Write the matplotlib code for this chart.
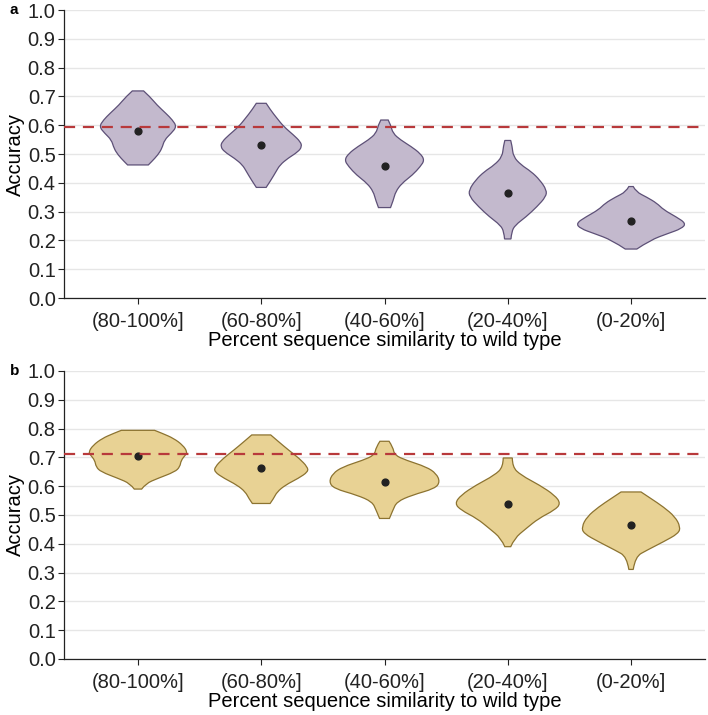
import numpy as np
import matplotlib
matplotlib.use("Agg")
import matplotlib.pyplot as plt
from matplotlib.path import Path
from matplotlib.patches import PathPatch

plt.rcParams['font.family'] = ['Liberation Sans', 'DejaVu Sans']

# categories
categories = ["(80-100%]", "(60-80%]", "(40-60%]", "(20-40%]", "(0-20%]"]

# baseline (dashed line) for each panel
baseline_a = 0.593
baseline_b = 0.712

# mean accuracy per bin (the dots)
means_a = [0.580, 0.530, 0.458, 0.363, 0.266]
means_b = [0.706, 0.664, 0.615, 0.537, 0.466]

# violin outlines: accuracy levels (bottom -> top)
# and the half width of the violin at that level (x units)
prof_a_y = [
    [0.462, 0.473, 0.497, 0.520, 0.549, 0.572, 0.595, 0.618, 0.641, 0.670, 0.699, 0.719],
    [0.384, 0.410, 0.439, 0.462, 0.485, 0.508, 0.526, 0.543, 0.566, 0.595, 0.624, 0.653, 0.676],
    [0.314, 0.340, 0.369, 0.398, 0.427, 0.456, 0.479, 0.502, 0.526, 0.549, 0.572, 0.601, 0.618],
    [0.205, 0.230, 0.253, 0.282, 0.317, 0.352, 0.375, 0.410, 0.439, 0.462, 0.491, 0.526, 0.547],
    [0.170, 0.201, 0.224, 0.241, 0.259, 0.282, 0.306, 0.329, 0.350, 0.369, 0.387],
]
prof_a_w = [
    [0.084, 0.110, 0.162, 0.195, 0.215, 0.270, 0.314, 0.280, 0.227, 0.154, 0.097, 0.046],
    [0.040, 0.080, 0.120, 0.152, 0.216, 0.300, 0.330, 0.317, 0.262, 0.183, 0.128, 0.075, 0.040],
    [0.049, 0.072, 0.090, 0.140, 0.227, 0.290, 0.325, 0.290, 0.216, 0.130, 0.068, 0.050, 0.030],
    [0.026, 0.031, 0.060, 0.149, 0.237, 0.310, 0.315, 0.260, 0.190, 0.108, 0.045, 0.036, 0.024],
    [0.047, 0.156, 0.300, 0.410, 0.446, 0.365, 0.265, 0.210, 0.128, 0.040, 0.018],
]

prof_b_y = [
    [0.590, 0.609, 0.627, 0.650, 0.667, 0.690, 0.708, 0.719, 0.742, 0.766, 0.783, 0.794],
    [0.540, 0.557, 0.580, 0.604, 0.627, 0.650, 0.667, 0.696, 0.725, 0.754, 0.778],
    [0.488, 0.517, 0.546, 0.569, 0.592, 0.615, 0.644, 0.667, 0.690, 0.708, 0.736, 0.756],
    [0.390, 0.419, 0.453, 0.488, 0.517, 0.540, 0.569, 0.604, 0.638, 0.667, 0.698],
    [0.311, 0.355, 0.378, 0.407, 0.436, 0.459, 0.494, 0.528, 0.557, 0.580],
]
prof_b_w = [
    [0.030, 0.063, 0.160, 0.300, 0.340, 0.350, 0.385, 0.400, 0.365, 0.290, 0.200, 0.135],
    [0.072, 0.100, 0.128, 0.196, 0.300, 0.380, 0.375, 0.310, 0.223, 0.142, 0.077],
    [0.040, 0.068, 0.100, 0.223, 0.410, 0.450, 0.420, 0.340, 0.176, 0.081, 0.068, 0.037],
    [0.024, 0.054, 0.149, 0.250, 0.380, 0.430, 0.380, 0.257, 0.108, 0.037, 0.037],
    [0.018, 0.034, 0.130, 0.263, 0.385, 0.400, 0.357, 0.263, 0.162, 0.081],
]


def side_curve(pts):
    # quadratic bezier pieces: interior points act as control points,
    # midpoints between them are on the curve
    verts, codes = [], []
    for k in range(1, len(pts) - 1):
        p = pts[k]
        if k < len(pts) - 2:
            end = ((pts[k][0] + pts[k + 1][0]) / 2, (pts[k][1] + pts[k + 1][1]) / 2)
        else:
            end = pts[k + 1]
        verts += [p, end]
        codes += [Path.CURVE3, Path.CURVE3]
    return verts, codes


def violin_path(center, ys, ws):
    right = [(center + w, y) for y, w in zip(ys, ws)]
    left = [(center - w, y) for y, w in zip(ys[::-1], ws[::-1])]
    verts = [left[-1], right[0]]
    codes = [Path.MOVETO, Path.LINETO]
    v, c = side_curve(right)
    verts += v
    codes += c
    verts.append(left[0])
    codes.append(Path.LINETO)
    v, c = side_curve(left)
    verts += v
    codes += c
    verts.append(left[-1])
    codes.append(Path.CLOSEPOLY)
    return Path(verts, codes)


fig = plt.figure(figsize=(7.08, 7.15), dpi=100)
W, H = 708, 715
ax_a = fig.add_axes([64 / W, 1 - 298 / H, (705 - 64) / W, (298 - 10) / H])
ax_b = fig.add_axes([64 / W, 1 - 659 / H, (705 - 64) / W, (659 - 371) / H])

panels = [
    (ax_a, prof_a_y, prof_a_w, means_a, baseline_a, '#c3b9cd', '#5d5077', 'a'),
    (ax_b, prof_b_y, prof_b_w, means_b, baseline_b, '#e8d294', '#8c7330', 'b'),
]

for ax, py, pw, means, base, fc, ec, letter in panels:
    ax.set_axisbelow(True)
    ax.yaxis.grid(True, color='#e6e6e6', linewidth=1)
    for i in range(len(categories)):
        patch = PathPatch(violin_path(i, py[i], pw[i]), facecolor=fc, edgecolor=ec,
                          linewidth=0.9, zorder=2)
        ax.add_patch(patch)
    ax.scatter(range(len(categories)), means, s=24, color='#222222', zorder=3)
    ax.axhline(base, color='#b8393b', linestyle=(0, (5, 3.5)), linewidth=1.6, zorder=4)

    ax.set_xlim(-0.6, 4.6)
    ax.set_ylim(0, 1.0)
    ax.set_yticks(np.arange(0, 1.01, 0.1))
    ax.set_yticklabels([f"{v:.1f}" for v in np.arange(0, 1.01, 0.1)])
    ax.set_xticks(range(len(categories)))
    ax.set_xticklabels(categories)
    ax.tick_params(axis='both', labelsize=14.5, length=4, width=0.8, colors='#222222',
                   pad=2)
    ax.tick_params(axis='x', pad=6)
    for s in ['top', 'right']:
        ax.spines[s].set_visible(False)
    for s in ['left', 'bottom']:
        ax.spines[s].set_color('#222222')
        ax.spines[s].set_linewidth(0.9)
    ax.set_ylabel("Accuracy", fontsize=14.5, labelpad=2)
    ax.set_xlabel("Percent sequence similarity to wild type", fontsize=14.5, labelpad=0)
    ax.text(-0.085, 1.0, letter, transform=ax.transAxes, fontsize=11,
            fontweight='bold', ha='left', va='center')

fig.savefig("out.png", dpi=100)
